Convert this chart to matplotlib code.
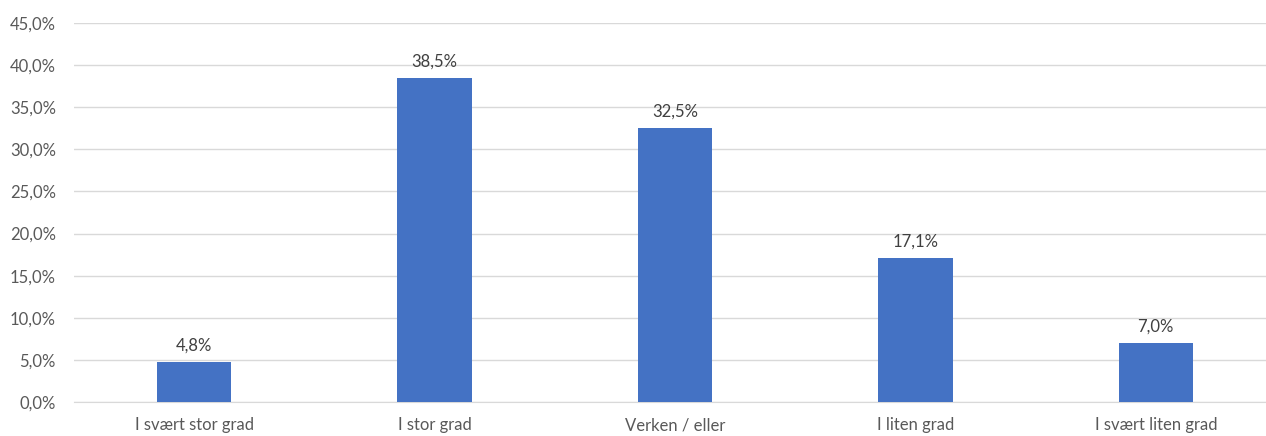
import matplotlib
matplotlib.use("Agg")
import matplotlib.pyplot as plt

categories = ["I svært stor grad", "I stor grad", "Verken / eller", "I liten grad", "I svært liten grad"]
values = [4.8, 38.5, 32.5, 17.1, 7.0]
yticks = [0, 5, 10, 15, 20, 25, 30, 35, 40, 45]

plt.rcParams["font.family"] = ["Lato", "DejaVu Sans"]
txt = "#595959"

fig = plt.figure(figsize=(12.66, 4.36), dpi=100)
# axes runs slightly past the right edge, as in the source image
ax = fig.add_axes([74 / 1266, 34 / 436, 1202 / 1266, 379 / 436])

x = range(len(categories))
ax.bar(x, values, width=0.31, color="#4472c4", zorder=3)
for i, v in enumerate(values):
    ax.text(i, v + 1.0, f"{v:.1f}%".replace(".", ","), ha="center", va="bottom",
            fontsize=12, color="#404040")

ax.set_xlim(-0.5, len(categories) - 0.5)
ax.set_ylim(0, 45)
ax.set_yticks(yticks)
ax.set_yticklabels([f"{t:.1f}%".replace(".", ",") for t in yticks])
ax.set_xticks(list(x))
ax.set_xticklabels(categories)
ax.tick_params(axis="both", length=0, labelsize=12, colors=txt)
ax.tick_params(axis="y", pad=13)
ax.tick_params(axis="x", pad=11)
ax.grid(axis="y", color="#d9d9d9", linewidth=1, zorder=0)
for s in ["top", "right", "left"]:
    ax.spines[s].set_visible(False)
ax.spines["bottom"].set_color("#d9d9d9")

fig.savefig("out.png", dpi=100)
